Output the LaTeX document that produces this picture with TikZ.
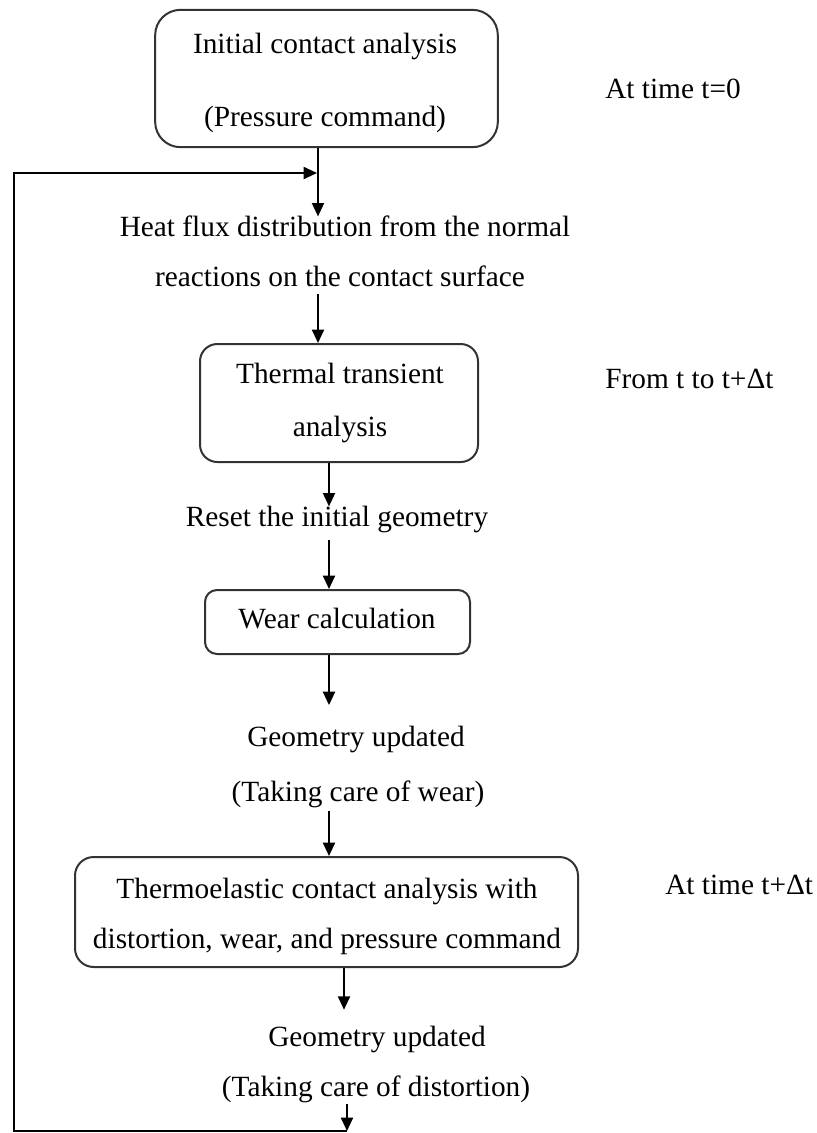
\documentclass[tikz,border=0pt]{standalone}
\usepackage{fontspec}
\setmainfont{Liberation Serif}
\usetikzlibrary{arrows.meta}
\begin{document}
\begin{tikzpicture}[x=0.75pt,y=-0.75pt,
  box/.style={draw=black!80, line width=1.5pt, inner sep=0pt},
  txt/.style={font=\fontsize{22}{26}\selectfont, inner sep=0pt,
    text height=15pt, text depth=5pt},
  side/.style={txt, anchor=west},
  arr/.style={line width=1.4pt, -{Triangle[length=10pt,width=9pt]}},
  link/.style={line width=1.4pt}]
\useasboundingbox (0,0) rectangle (817,1133);

% x positions of the vertical connectors
\coordinate (xa) at (318,0);
\coordinate (xb) at (329,0);
\coordinate (xc) at (344,0);
\coordinate (xd) at (347,0);

% boxes
\node[box, rounded corners=19pt, minimum width=257pt, minimum height=103pt] (init) at (326.5,78.5) {};
\node[box, rounded corners=13pt, minimum width=208.5pt, minimum height=88.5pt] (thermal) at (339,403) {};
\node[box, rounded corners=9pt, minimum width=198.75pt, minimum height=48pt] (wear) at (337.5,622) {};
\node[box, rounded corners=14pt, minimum width=377.25pt, minimum height=82.5pt] (thermo) at (326.5,912) {};

% texts
\node[txt] (init1) at (325,47) {Initial contact analysis};
\node[txt] (init2) at (325,120) {(Pressure command)};
\node[txt] (heat1) at (345,230) {Heat flux distribution from the normal};
\node[txt] (heat2) at (340,280) {reactions on the contact surface};
\node[txt] (thermal1) at (340,377) {Thermal transient};
\node[txt] (thermal2) at (340,430) {analysis};
\node[txt] (reset) at (337,520) {Reset the initial geometry};
\node[txt] (wear1) at (337,622) {Wear calculation};
\node[txt] (geo1) at (356,740) {Geometry updated};
\node[txt] (geo2) at (358,795) {(Taking care of wear)};
\node[txt] (thermo1) at (327,892) {Thermoelastic contact analysis with};
\node[txt] (thermo2) at (327,942) {distortion, wear, and pressure command};
\node[txt] (geo3) at (377,1040) {Geometry updated};
\node[txt] (geo4) at (376,1090) {(Taking care of distortion)};

% time labels
\node[side] (t0) at (605,92) {At time t=0};
\node[side] (tdt) at (605,382) {From t to t+Δt};
\node[side] (tend) at (665,888) {At time t+Δt};

% main flow
\draw[arr] (init.south -| xa) -- (heat1.north -| xa);
\draw[arr] (heat2.south -| xa) -- (thermal.north -| xa);
\draw[arr] (thermal.south -| xb) -- (reset.north -| xb);
\draw[arr, shorten <=5pt] (reset.south -| xb) -- (wear.north -| xb);
\draw[arr, shorten >=16pt] (wear.south -| xb) -- (geo1.north -| xb);
\draw[arr, shorten <=1.5pt] (geo2.south -| xb) -- (thermo.north -| xb);
\draw[arr, shorten >=12.5pt] (thermo.south -| xc) -- (geo3.north -| xc);

% feedback loop
\coordinate (turn) at (347,1131);
\coordinate (corner) at (14,1131);
\coordinate (join) at (317,173);
\draw[arr] (geo4.south -| xd) -- (turn);
\draw[arr] (turn) -- (corner) |- (join);
\end{tikzpicture}
\end{document}
